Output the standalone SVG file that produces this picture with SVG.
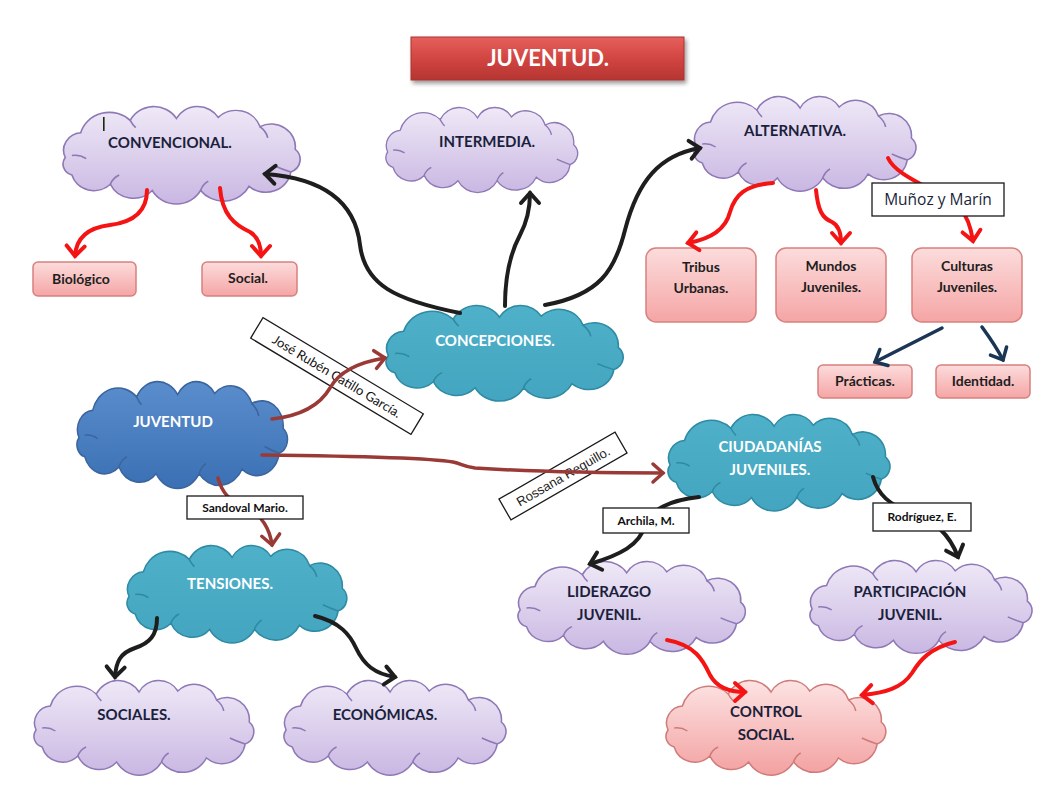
<svg xmlns="http://www.w3.org/2000/svg" xmlns:xlink="http://www.w3.org/1999/xlink" width="1039" height="787" viewBox="0 0 1039 787">
<style>
  .lav { fill: url(#gLav); stroke: #8e78b6; stroke-width: 1.5; }
  .teal { fill: url(#gTeal); stroke: #2f8aa3; stroke-width: 1.5; }
  .blue { fill: url(#gBlue); stroke: #3b659c; stroke-width: 1.5; }
  .pinkc { fill: url(#gPinkC); stroke: #cf7b79; stroke-width: 1.5; }
  .box { fill: url(#gBox); stroke: #d7807e; stroke-width: 1.5; }
  .lbl { fill: #ffffff; stroke: #1a1a1a; stroke-width: 1.3; }
  .t { font-family: Lato, "Liberation Sans", sans-serif; font-weight: bold; text-anchor: middle; }
  .tc { font-size: 15px; fill: #1b1f3b; }
  .tw { font-size: 15px; fill: #ffffff; }
  .tb { font-size: 14px; fill: #1e1e1e; }
  .tl { font-size: 12px; fill: #111111; }
  .red { fill: none; stroke: #f51414; stroke-width: 4; stroke-linecap: round; }
  .blk { fill: none; stroke: #1e1e1e; stroke-width: 4; stroke-linecap: round; }
  .navy { fill: none; stroke: #1b3655; stroke-width: 3.5; stroke-linecap: round; }
  .dred { fill: none; stroke: #9a3a37; stroke-width: 3.5; stroke-linecap: round; }
</style>
<defs>
  <linearGradient id="gLav" x1="0" y1="0" x2="0" y2="1">
    <stop offset="0" stop-color="#efe9f7"/>
    <stop offset="1" stop-color="#c9b7e2"/>
  </linearGradient>
  <linearGradient id="gTeal" x1="0" y1="0" x2="0" y2="1">
    <stop offset="0" stop-color="#4fb0c9"/>
    <stop offset="1" stop-color="#43a5bf"/>
  </linearGradient>
  <linearGradient id="gBlue" x1="0" y1="0" x2="0" y2="1">
    <stop offset="0" stop-color="#5a8dcc"/>
    <stop offset="1" stop-color="#3a70b4"/>
  </linearGradient>
  <linearGradient id="gPinkC" x1="0" y1="0" x2="0" y2="1">
    <stop offset="0" stop-color="#fde3e3"/>
    <stop offset="1" stop-color="#f3a1a1"/>
  </linearGradient>
  <linearGradient id="gBox" x1="0" y1="0" x2="0" y2="1">
    <stop offset="0" stop-color="#fcdcdc"/>
    <stop offset="1" stop-color="#f5a5a5"/>
  </linearGradient>
  <linearGradient id="gTitle" x1="0" y1="0" x2="0" y2="1">
    <stop offset="0" stop-color="#e6605c"/>
    <stop offset="0.5" stop-color="#d24541"/>
    <stop offset="1" stop-color="#b53532"/>
  </linearGradient>
  <filter id="shadow" x="-10%" y="-20%" width="130%" height="160%">
    <feDropShadow dx="2" dy="3" stdDeviation="2" flood-color="#000" flood-opacity="0.4"/>
  </filter>
  <g id="cloud">
    <path d="M 3 50 A 17 17 0 0 1 17 26 A 27 27 0 0 1 62 14 A 24 24 0 0 1 104 12 A 22 22 0 0 1 142 11 A 23 23 0 0 1 180 20 A 22 22 0 0 1 212 42 A 13 13 0 0 1 208 64 A 23 23 0 0 1 170 78 A 26 26 0 0 1 126 82 A 25 25 0 0 1 82 82 A 23 23 0 0 1 44 76 A 21 21 0 0 1 9 67 A 11 11 0 0 1 3 50 Z"/>
    <path fill="none" d="M 9 48 Q 16 47 22 51 M 44 76 Q 46 70 52 67 M 180 20 Q 186 25 187 31 M 208 64 Q 199 61 193 58 M 126 82 Q 128 76 133 73 M 62 14 Q 64 18 67 21"/>
  </g>
  <marker id="aRed" markerUnits="userSpaceOnUse" markerWidth="28" markerHeight="28" viewBox="-14 -14 28 28" refX="0" refY="0" orient="auto">
    <path d="M -10 -9 L 0 0 L -10 9" fill="none" stroke="#f51414" stroke-width="4" stroke-linecap="round"/>
  </marker>
  <marker id="aBlk" markerUnits="userSpaceOnUse" markerWidth="28" markerHeight="28" viewBox="-14 -14 28 28" refX="0" refY="0" orient="auto">
    <path d="M -10 -9 L 0 0 L -10 9" fill="none" stroke="#1e1e1e" stroke-width="4" stroke-linecap="round"/>
  </marker>
  <marker id="aNavy" markerUnits="userSpaceOnUse" markerWidth="28" markerHeight="28" viewBox="-14 -14 28 28" refX="0" refY="0" orient="auto">
    <path d="M -10 -9 L 0 0 L -10 9" fill="none" stroke="#1b3655" stroke-width="3.5" stroke-linecap="round"/>
  </marker>
  <marker id="aDred" markerUnits="userSpaceOnUse" markerWidth="28" markerHeight="28" viewBox="-14 -14 28 28" refX="0" refY="0" orient="auto">
    <path d="M -10 -9 L 0 0 L -10 9" fill="none" stroke="#9a3a37" stroke-width="3.5" stroke-linecap="round"/>
  </marker>
</defs>

<rect width="1039" height="787" fill="#ffffff"/>

<g id="title">
  <rect x="411" y="37" width="273" height="43" fill="url(#gTitle)" stroke="#a83431" stroke-width="1" filter="url(#shadow)"/>
  <text x="548" y="66" class="t" font-size="22" fill="#ffffff">JUVENTUD.</text>
</g>

<g id="convencional">
  <use href="#cloud" class="lav" transform="translate(62,106) scale(1.10,1.03)"/>
  <text x="170" y="148" class="t tc">CONVENCIONAL.</text>
  <rect x="103" y="117" width="1.6" height="14" fill="#1a2a10"/>
</g>
<g id="intermedia">
  <use href="#cloud" class="lav" transform="translate(385,107) scale(0.89,0.90)"/>
  <text x="487" y="147" class="t tc">INTERMEDIA.</text>
</g>
<g id="alternativa">
  <use href="#cloud" class="lav" transform="translate(693,96) scale(1.03,1.0)"/>
  <text x="795" y="136" class="t tc">ALTERNATIVA.</text>
</g>
<g id="concepciones">
  <use href="#cloud" class="teal" transform="translate(385,305) scale(1.10,1.01)"/>
  <text x="495" y="346" class="t tw">CONCEPCIONES.</text>
</g>
<g id="juventud">
  <use href="#cloud" class="blue" transform="translate(76,381) scale(0.977,1.13)"/>
  <text x="173" y="427" class="t tw">JUVENTUD</text>
</g>
<g id="ciudadanias">
  <use href="#cloud" class="teal" transform="translate(667,414) scale(1.03,1.02)"/>
  <text x="770" y="452" class="t tw">CIUDADANÍAS</text>
  <text x="770" y="475" class="t tw">JUVENILES.</text>
</g>
<g id="tensiones">
  <use href="#cloud" class="teal" transform="translate(126,545) scale(1.02,1.03)"/>
  <text x="230" y="589" class="t tw">TENSIONES.</text>
</g>
<g id="liderazgo">
  <use href="#cloud" class="lav" transform="translate(517,561) scale(1.055,0.98)"/>
  <text x="609" y="597" class="t tc">LIDERAZGO</text>
  <text x="609" y="620" class="t tc">JUVENIL.</text>
</g>
<g id="participacion">
  <use href="#cloud" class="lav" transform="translate(809,560) scale(1.03,0.98)"/>
  <text x="910" y="597" class="t tc">PARTICIPACIÓN</text>
  <text x="910" y="620" class="t tc">JUVENIL.</text>
</g>
<g id="sociales">
  <use href="#cloud" class="lav" transform="translate(33,680) scale(1.02,1.0)"/>
  <text x="134" y="720" class="t tc">SOCIALES.</text>
</g>
<g id="economicas">
  <use href="#cloud" class="lav" transform="translate(283,680) scale(1.03,1.0)"/>
  <text x="385" y="720" class="t tc">ECONÓMICAS.</text>
</g>
<g id="control">
  <use href="#cloud" class="pinkc" transform="translate(665,680) scale(1.02,1.0)"/>
  <text x="766" y="717" class="t tc">CONTROL</text>
  <text x="766" y="740" class="t tc">SOCIAL.</text>
</g>

<g id="biologico">
  <rect x="33" y="262" width="103" height="34" rx="5" class="box"/>
  <text x="81" y="284" class="t tb">Biológico</text>
</g>
<g id="social">
  <rect x="202" y="262" width="95" height="34" rx="5" class="box"/>
  <text x="248" y="283" class="t tb">Social.</text>
</g>
<g id="tribus">
  <rect x="646" y="248" width="110" height="74" rx="10" class="box"/>
  <text x="701" y="272" class="t tb">Tribus</text>
  <text x="701" y="293" class="t tb">Urbanas.</text>
</g>
<g id="mundos">
  <rect x="776" y="248" width="110" height="74" rx="10" class="box"/>
  <text x="831" y="271" class="t tb">Mundos</text>
  <text x="831" y="292" class="t tb">Juveniles.</text>
</g>
<g id="culturas">
  <rect x="912" y="248" width="110" height="74" rx="10" class="box"/>
  <text x="967" y="271" class="t tb">Culturas</text>
  <text x="967" y="292" class="t tb">Juveniles.</text>
</g>
<g id="practicas">
  <rect x="818" y="365" width="94" height="33" rx="5" class="box"/>
  <text x="865" y="386" class="t tb">Prácticas.</text>
</g>
<g id="identidad">
  <rect x="936" y="365" width="94" height="33" rx="5" class="box"/>
  <text x="983" y="386" class="t tb">Identidad.</text>
</g>

<g id="labels-under">
  <g id="lbl-jose" transform="rotate(31 337 376)">
    <rect x="243.5" y="364" width="187" height="24" class="lbl"/>
    <text x="337" y="381" font-family="Lato, 'Liberation Sans', sans-serif" font-size="13" fill="#111111" text-anchor="middle">José Rubén Catillo García.</text>
  </g>
  <g id="lbl-rossana" transform="rotate(-30 563 476)">
    <rect x="496" y="464" width="134" height="24" class="lbl"/>
    <text x="563" y="481" font-family="'Liberation Sans', Arial, sans-serif" font-size="13" fill="#222222" text-anchor="middle">Rossana Reguillo.</text>
  </g>
</g>

<g id="connectors">
  <path class="blk" marker-end="url(#aBlk)" d="M 460 313 C 395 300 365 285 360 245 C 355 200 320 178 265 174"/>
  <path class="blk" marker-end="url(#aBlk)" d="M 505 306 C 505 270 512 250 520 235 C 528 220 530 205 530 193"/>
  <path class="blk" marker-end="url(#aBlk)" d="M 545 305 C 600 295 615 270 625 230 C 638 180 660 155 700 148"/>
  <path class="red" marker-end="url(#aRed)" d="M 147 190 C 147 210 135 222 110 225 C 85 228 76 240 75 256"/>
  <path class="red" marker-end="url(#aRed)" d="M 220 188 C 222 215 235 225 250 232 C 260 238 261 248 261 256"/>
  <path class="red" marker-end="url(#aRed)" d="M 773 183 C 745 185 735 195 730 212 C 725 232 705 240 688 243"/>
  <path class="red" marker-end="url(#aRed)" d="M 816 190 C 818 210 822 218 832 222 C 840 226 841 235 841 243"/>
  <path class="red" marker-end="url(#aRed)" d="M 888 158 C 897 178 940 190 960 208 C 967 216 971 228 973 241"/>
  <path class="red" marker-end="url(#aRed)" d="M 667 640 C 695 645 703 660 710 675 C 717 688 730 692 745 692"/>
  <path class="red" marker-end="url(#aRed)" d="M 955 642 C 930 648 920 660 912 673 C 902 688 885 693 862 695"/>
  <path class="navy" marker-end="url(#aNavy)" d="M 942 328 L 875 362"/>
  <path class="navy" marker-end="url(#aNavy)" d="M 982 327 C 990 338 997 348 1003 360"/>
  <path class="dred" marker-end="url(#aDred)" d="M 272 419 C 300 416 320 405 330 388 C 340 370 360 362 385 358"/>
  <path class="dred" marker-end="url(#aDred)" d="M 262 455 C 350 456 430 458 453 462 C 462 464 464 467 475 468 C 520 471 580 473 663 473"/>
  <path class="dred" marker-end="url(#aDred)" d="M 218 478 C 222 492 228 500 245 507 C 262 514 270 530 272 545"/>
  <path class="blk" marker-end="url(#aBlk)" d="M 699 497 C 670 500 650 510 645 525 C 640 545 620 555 590 564"/>
  <path class="blk" marker-end="url(#aBlk)" d="M 873 477 C 878 495 890 505 910 512 C 935 520 950 535 958 557"/>
  <path class="blk" marker-end="url(#aBlk)" d="M 157 618 C 157 635 150 643 135 648 C 120 653 116 662 115 677"/>
  <path class="blk" marker-end="url(#aBlk)" d="M 315 616 C 340 622 350 635 356 648 C 364 665 375 674 395 677"/>
</g>

<g id="labels">
  <g id="lbl-munoz">
    <rect x="872" y="183" width="132" height="33" class="lbl"/>
    <text x="938" y="205" font-family="'Open Sans', 'Liberation Sans', sans-serif" font-size="15.5" fill="#1b1f3b" text-anchor="middle">Muñoz y Marín</text>
  </g>
  <g id="lbl-sandoval">
    <rect x="187" y="496" width="116" height="23" class="lbl"/>
    <text x="245" y="512" class="t tl">Sandoval Mario.</text>
  </g>
  <g id="lbl-archila">
    <rect x="603" y="508" width="86" height="25" class="lbl"/>
    <text x="646" y="525" class="t tl">Archila, M.</text>
  </g>
  <g id="lbl-rodriguez">
    <rect x="873" y="503" width="98" height="28" class="lbl"/>
    <text x="922" y="521" class="t tl">Rodríguez, E.</text>
  </g>
</g>
</svg>
